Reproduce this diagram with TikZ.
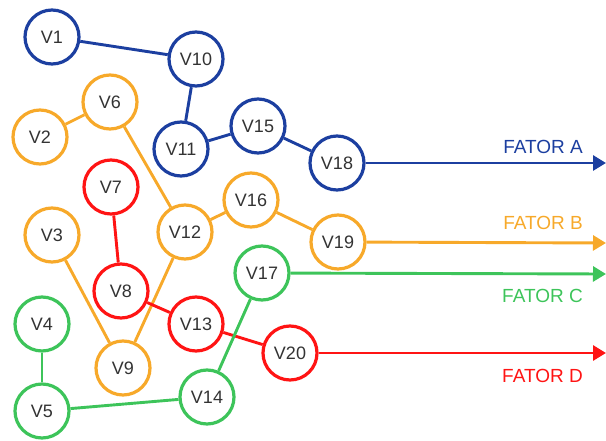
\documentclass[tikz,border=0pt]{standalone}
\usepackage{fontspec}
\setmainfont{Liberation Sans}
\usetikzlibrary{arrows.meta}
\definecolor{cblue}{RGB}{28,63,160}
\definecolor{corange}{RGB}{247,169,42}
\definecolor{cgreen}{RGB}{61,196,90}
\definecolor{cred}{RGB}{255,20,20}
\definecolor{ctext}{RGB}{51,51,51}
\begin{document}
\begin{tikzpicture}[x=1pt,y=-1pt,
  vnode/.style={circle,draw=#1,line width=3.2pt,fill=white,minimum size=54pt,inner sep=0pt,
    font=\fontsize{18}{18}\selectfont,text=ctext},
  edge/.style={draw=#1,line width=2.9pt},
  farrow/.style={draw=#1,line width=2.9pt,-{Triangle[length=13pt,width=15pt]}},
  flabel/.style={text=#1,font=\fontsize{19}{19}\selectfont,anchor=east,inner sep=0pt}]
\useasboundingbox (0,0) rectangle (606,441);
% nodes
\node[vnode=cblue] (V1) at (52,37) {V1};
\node[vnode=cblue] (V10) at (196,59) {V10};
\node[vnode=cblue] (V11) at (181,149) {V11};
\node[vnode=cblue] (V15) at (258,126) {V15};
\node[vnode=cblue] (V18) at (337,163) {V18};
\node[vnode=corange] (V6) at (110,102) {V6};
\node[vnode=corange] (V2) at (40,137) {V2};
\node[vnode=corange] (V16) at (251,200) {V16};
\node[vnode=corange] (V12) at (185,232) {V12};
\node[vnode=corange] (V3) at (52,235) {V3};
\node[vnode=corange] (V19) at (338,242) {V19};
\node[vnode=corange] (V9) at (123,368) {V9};
\node[vnode=cred] (V7) at (111,187) {V7};
\node[vnode=cred] (V8) at (121,291) {V8};
\node[vnode=cred] (V13) at (196,324) {V13};
\node[vnode=cred] (V20) at (290,353) {V20};
\node[vnode=cgreen] (V17) at (262,273) {V17};
\node[vnode=cgreen] (V4) at (42,324) {V4};
\node[vnode=cgreen] (V5) at (42,411) {V5};
\node[vnode=cgreen] (V14) at (207,397) {V14};
% arrow ends
\coordinate (EA) at (606,163);
\coordinate (EB) at (606,243);
\coordinate (EC) at (606,274);
\coordinate (ED) at (606,353);
% edges
\path[edge=cblue] (V1) -- (V10);
\path[edge=cblue] (V10) -- (V11);
\path[edge=cblue] (V11) -- (V15);
\path[edge=cblue] (V15) -- (V18);
\path[edge=corange] (V2) -- (V6);
\path[edge=corange] (V6) -- (V12);
\path[edge=corange] (V12) -- (V16);
\path[edge=corange] (V16) -- (V19);
\path[edge=corange] (V3) -- (V9);
\path[edge=corange] (V9) -- (V12);
\path[edge=cred] (V7) -- (V8);
\path[edge=cred] (V8) -- (V13);
\path[edge=cred] (V13) -- (V20);
\path[edge=cgreen] (V4) -- (V5);
\path[edge=cgreen] (V5) -- (V14);
\path[edge=cgreen] (V14) -- (V17);
\path[farrow=cblue] (V18) -- (EA);
\path[farrow=corange] (V19) -- (EB);
\path[farrow=cgreen] (V17) -- (EC);
\path[farrow=cred] (V20) -- (ED);
% labels
\node[flabel=cblue] (LA) at (583,147) {FATOR A};
\node[flabel=corange] (LB) at (583,223) {FATOR B};
\node[flabel=cgreen] (LC) at (583,296) {FATOR C};
\node[flabel=cred] (LD) at (583,376) {FATOR D};
\end{tikzpicture}
\end{document}
